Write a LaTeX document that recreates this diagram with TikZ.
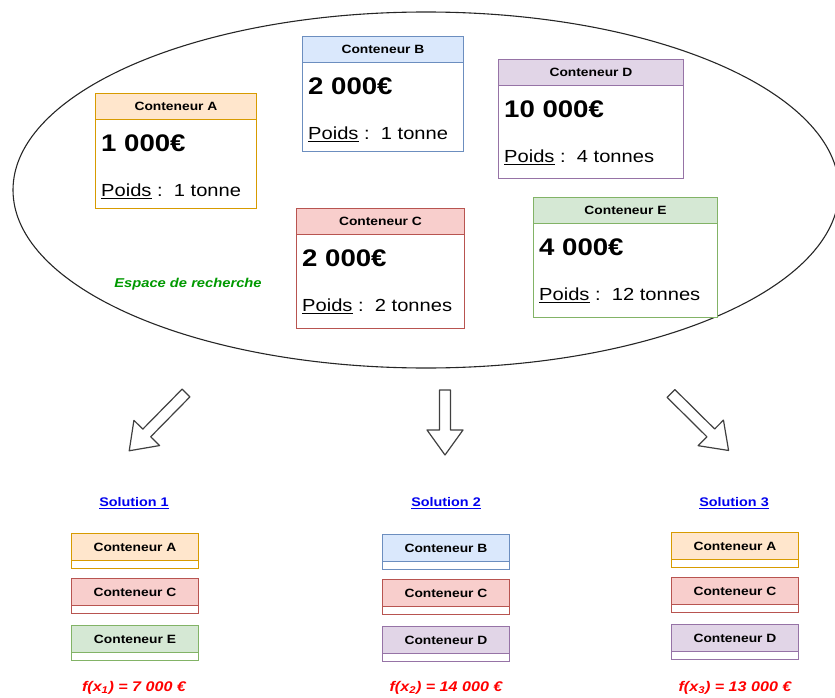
\documentclass[tikz,border=0pt]{standalone}
\usepackage{fontspec}
\setmainfont{Liberation Sans}[FakeStretch=1.15]
\usetikzlibrary{shapes.geometric}

% draw.io palette
\definecolor{orangefill}{HTML}{FFE6CC}\definecolor{orangeline}{HTML}{D79B00}
\definecolor{bluefill}{HTML}{DAE8FC}\definecolor{blueline}{HTML}{6C8EBF}
\definecolor{purplefill}{HTML}{E1D5E7}\definecolor{purpleline}{HTML}{9673A6}
\definecolor{redfill}{HTML}{F8CECC}\definecolor{redline}{HTML}{B85450}
\definecolor{greenfill}{HTML}{D5E8D4}\definecolor{greenline}{HTML}{82B366}
\definecolor{linkblue}{HTML}{0000EE}
\definecolor{scorered}{HTML}{FF0000}
\definecolor{spacegreen}{HTML}{009900}

% large container card: name, x, y, width, height, colour, title, price, weight
\newcommand{\carte}[9]{%
  \node[cardbody, draw=#6line, minimum width=#4, minimum height=#5, anchor=north west] (#1) at (#2,#3) {};
  \node[cardhead, fill=#6fill, draw=#6line, minimum width=#4, anchor=north west] (#1-head) at (#2,#3) {#7};
  \node[price, anchor=west] (#1-price) at ([xshift=6pt,yshift=-50pt]#1.north west) {#8};
  \node[weight, anchor=west] (#1-weight) at ([xshift=6pt,yshift=-98pt]#1.north west) {\underline{Poids} :\ \ #9};
}
% small container in a solution: name, x, y, colour, title
\newcommand{\boite}[5]{%
  \node[cardbody, draw=#4line, minimum width=127, minimum height=35, anchor=north west] (#1) at (#2,#3) {};
  \node[smallhead, fill=#4fill, draw=#4line, minimum width=127, anchor=north west] (#1-head) at (#2,#3) {#5};
}

\begin{document}
\begin{tikzpicture}[x=1pt,y=-1pt,
  cardbody/.style={rectangle, inner sep=0pt, line width=0.9pt, fill=white},
  cardhead/.style={rectangle, inner sep=0pt, minimum height=26, line width=0.9pt,
    font=\bfseries\fontsize{12}{14}\selectfont},
  smallhead/.style={rectangle, inner sep=0pt, minimum height=27, line width=0.9pt,
    font=\bfseries\fontsize{12}{14}\selectfont},
  price/.style={inner sep=0pt, font=\bfseries\fontsize{24}{27}\selectfont},
  weight/.style={inner sep=0pt, font=\fontsize{17.5}{20}\selectfont},
  solution/.style={inner sep=0pt, text=linkblue, font=\bfseries\fontsize{12.5}{15}\selectfont},
  score/.style={inner sep=0pt, text=scorered, font=\bfseries\itshape\fontsize{14}{16}\selectfont},
  arrowstroke/.style={draw=black!75, line width=1.2pt, line join=round, fill=white},
  pics/hollow arrow/.style={code={
    \draw[arrowstroke] (0,-5.5) -- ({#1-25},-5.5) -- ({#1-25},-18) -- (#1,0)
      -- ({#1-25},18) -- ({#1-25},5.5) -- (0,5.5) -- cycle;}}
]
\useasboundingbox (0,0) rectangle (835,698);

% search space
\node[ellipse, draw=black!85, line width=1.1pt, minimum width=826, minimum height=356, inner sep=0pt]
  (space) at (426,190) {};
\node[inner sep=0pt, text=spacegreen, font=\bfseries\itshape\fontsize{12.8}{15}\selectfont]
  (space-label) at (188,284) {Espace de recherche};

% containers
\carte{A}{95}{93}{161}{115}{orange}{Conteneur A}{1 000€}{1 tonne}
\carte{B}{302}{36}{161}{115}{blue}{Conteneur B}{2 000€}{1 tonne}
\carte{D}{498}{59}{185}{119}{purple}{Conteneur D}{10 000€}{4 tonnes}
\carte{C}{296}{208}{168}{120}{red}{Conteneur C}{2 000€}{2 tonnes}
\carte{E}{533}{197}{184}{120}{green}{Conteneur E}{4 000€}{12 tonnes}

% block arrows towards the solutions
\pic[rotate=225.5] at (186,393) {hollow arrow=81};
\pic[rotate=270] at (445,390) {hollow arrow=65};
\pic[rotate=-44.7] at (671,393.5) {hollow arrow=81};

% solution 1
\node[solution] (sol1) at (134,503) {\underline{Solution 1}};
\boite{s1a}{71}{533}{orange}{Conteneur A}
\boite{s1c}{71}{578}{red}{Conteneur C}
\boite{s1e}{71}{625}{green}{Conteneur E}
\node[score] (f1) at (134,688) {f(x\textsubscript{1}) = 7 000 €};

% solution 2
\node[solution] (sol2) at (446,503) {\underline{Solution 2}};
\boite{s2b}{382}{534}{blue}{Conteneur B}
\boite{s2c}{382}{579}{red}{Conteneur C}
\boite{s2d}{382}{626}{purple}{Conteneur D}
\node[score] (f2) at (446,688) {f(x\textsubscript{2}) = 14 000 €};

% solution 3
\node[solution] (sol3) at (734,503) {\underline{Solution 3}};
\boite{s3a}{671}{532}{orange}{Conteneur A}
\boite{s3c}{671}{577}{red}{Conteneur C}
\boite{s3d}{671}{624}{purple}{Conteneur D}
\node[score] (f3) at (735,688) {f(x\textsubscript{3}) = 13 000 €};
\end{tikzpicture}
\end{document}
